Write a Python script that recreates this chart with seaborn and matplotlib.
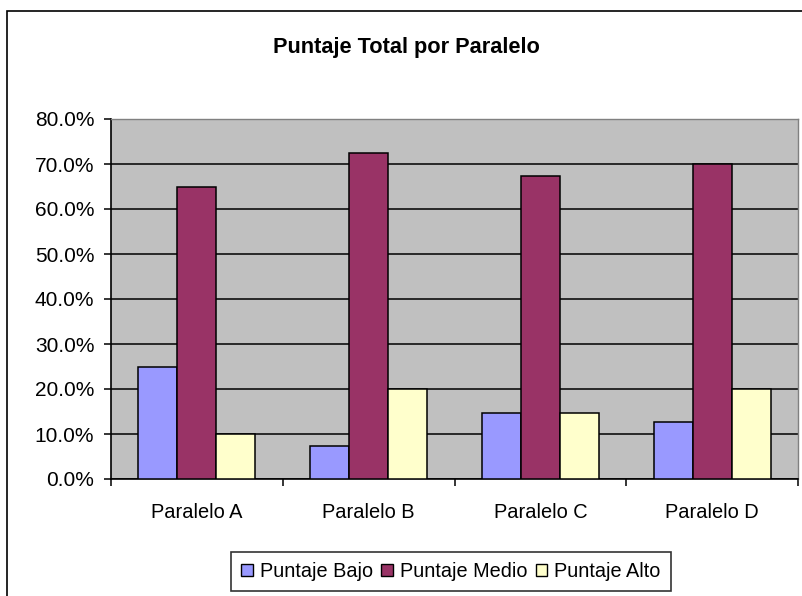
import matplotlib
matplotlib.use("Agg")
import matplotlib.pyplot as plt
import seaborn as sns
import pandas as pd
from matplotlib.patches import Rectangle, Patch
from matplotlib.ticker import FuncFormatter, MultipleLocator

categories = ["Paralelo A", "Paralelo B", "Paralelo C", "Paralelo D"]
series_names = ["Puntaje Bajo", "Puntaje Medio", "Puntaje Alto"]
bajo = [25.0, 7.3, 14.7, 12.7]
medio = [65.0, 72.5, 67.3, 70.0]
alto = [10.0, 20.0, 14.7, 20.0]
colors = ["#9999FF", "#993366", "#FFFFCC"]

rows = []
for name, vals in zip(series_names, [bajo, medio, alto]):
    for c, v in zip(categories, vals):
        rows.append({"Paralelo": c, "Serie": name, "Valor": v})
df = pd.DataFrame(rows)

sns.set_style("white")
plt.rcParams["font.family"] = ["Liberation Sans", "DejaVu Sans"]
plt.rcParams["text.color"] = "black"
plt.rcParams["xtick.color"] = "black"
plt.rcParams["ytick.color"] = "black"

W, H = 802, 596
fig = plt.figure(figsize=(W / 100, H / 100), dpi=100)
fig.patch.set_facecolor("white")

left, right, top, bottom = 111, 798, 119, 479
ax = fig.add_axes([left / W, 1 - bottom / H, (right - left) / W, (bottom - top) / H])
ax.set_facecolor("#C0C0C0")

sns.barplot(data=df, x="Paralelo", y="Valor", hue="Serie", palette=colors,
            saturation=1, width=0.68, gap=0, edgecolor="black", linewidth=1.1,
            ax=ax, legend=False, zorder=3, errorbar=None)

ax.set_ylim(0, 80)
ax.set_xlim(-0.5, 3.5)
ax.yaxis.set_major_locator(MultipleLocator(10))
ax.yaxis.set_major_formatter(FuncFormatter(lambda v, p: f"{v:.1f}%"))
ax.grid(axis="y", color="black", linewidth=1.1, zorder=1)
ax.set_axisbelow(True)
ax.set_xlabel("")
ax.set_ylabel("")

for s in ["left", "bottom"]:
    ax.spines[s].set_color("black")
    ax.spines[s].set_linewidth(1.2)
for s in ["top", "right"]:
    ax.spines[s].set_color("#808080")
    ax.spines[s].set_linewidth(1.0)

ax.tick_params(axis="y", which="major", direction="out", length=5, width=1.1,
               colors="black", labelsize=15, pad=7, left=True)
ax.set_xticks(range(4))
ax.set_xticklabels(categories)
ax.set_xticks([-0.5, 0.5, 1.5, 2.5, 3.5], minor=True)
ax.tick_params(axis="x", which="major", length=0, labelsize=14.4, pad=17.5)
ax.tick_params(axis="x", which="minor", direction="out", length=5, width=1.1,
               colors="black", bottom=True)

fig.text(406 / W, 1 - 47 / H, "Puntaje Total por Paralelo", ha="center",
         va="center", fontsize=15.7, fontweight="bold", color="black")

# outer chart border
fig.patches.append(Rectangle((7 / W, -0.1), 1.2, 1 - 11 / H + 0.1,
                             transform=fig.transFigure, fill=False,
                             edgecolor="black", linewidth=1.2))

handles = [Patch(facecolor=c, edgecolor="black", linewidth=1.0) for c in colors]
leg = fig.legend(handles, series_names, loc="upper center",
                 bbox_to_anchor=(451 / W, 1 - 552 / H), ncol=3,
                 fontsize=14.3, frameon=True, fancybox=False,
                 handlelength=0.6, handleheight=0.6, handletextpad=0.35,
                 columnspacing=0.4, borderpad=0.5, borderaxespad=0)
leg.get_frame().set_edgecolor("black")
leg.get_frame().set_linewidth(1.2)

fig.savefig("out.png", dpi=100)
